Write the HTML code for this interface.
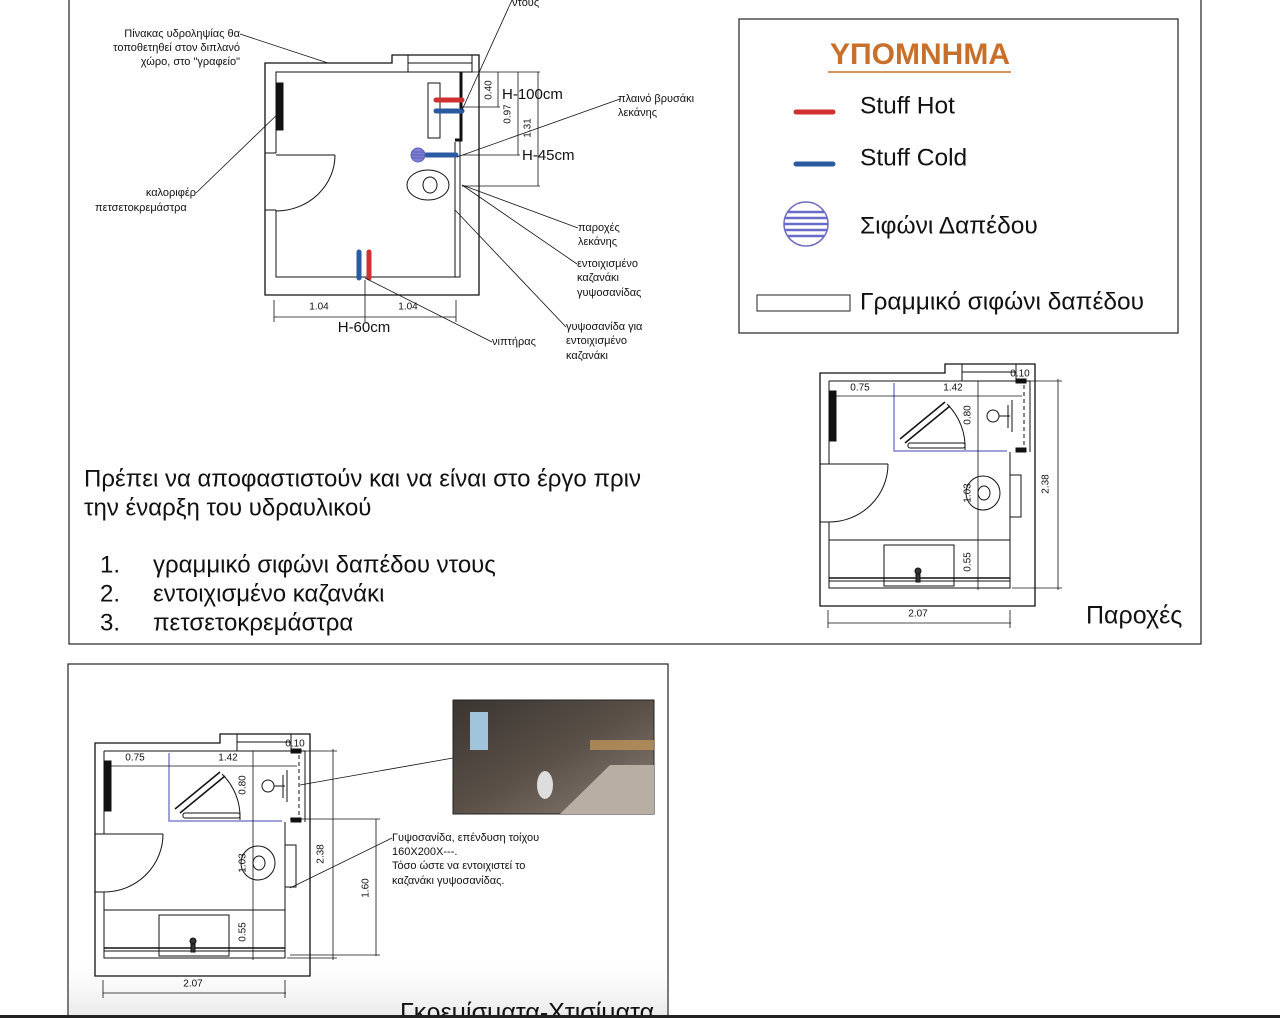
<!DOCTYPE html>
<html><head><meta charset="utf-8"><style>
html,body{margin:0;padding:0;background:#fff;}
svg{display:block;font-family:"Liberation Sans",sans-serif;}
text{dominant-baseline:middle;}
</style></head><body>
<svg width="1280" height="1018" viewBox="0 0 1280 1018" xmlns="http://www.w3.org/2000/svg">
<defs>
<linearGradient id="ph" x1="0" y1="0" x2="1" y2="1">
<stop offset="0" stop-color="#3a3530"/><stop offset="0.5" stop-color="#5a5048"/><stop offset="1" stop-color="#8a8078"/>
</linearGradient>
<linearGradient id="fade" x1="0" y1="0" x2="0" y2="1">
<stop offset="0" stop-color="#fff" stop-opacity="0"/><stop offset="1" stop-color="#e8e8e8"/>
</linearGradient>
<g id="plan" fill="none" stroke="#111" stroke-width="1">
<path d="M820,373 H945 V364 H1035 V606 H820 Z" stroke-width="1.3"/>
<path d="M829,381 H1030 V452 M1010,452 V588 H829 V522 M829,464 V381"/>
<path d="M820,464 H829 M820,522 H829"/>
<rect x="962" y="364" width="54" height="17"/>
<line x1="962" y1="372" x2="1016" y2="372"/>
<line x1="829" y1="464" x2="888" y2="464"/>
<path d="M888,464 A59,58 0 0 1 829,522"/>
<rect x="830" y="391" width="6" height="50" fill="#111"/>
<path d="M894,383 V451 H1007" stroke="#8080d0" stroke-width="1.5"/>
<path d="M900,439 L945,402 M905,443 L950,406" stroke-width="1.5"/>
<rect x="908" y="443" width="57" height="5" rx="2"/>
<path d="M947,404 A60,60 0 0 1 965,450"/>
<line x1="829" y1="396" x2="1022" y2="396" stroke-width="0.8"/>
<text x="860" y="388" font-size="10" fill="#111" stroke="none" text-anchor="middle">0.75</text>
<text x="953" y="388" font-size="10" fill="#111" stroke="none" text-anchor="middle">1.42</text>
<text x="1020" y="374" font-size="10" fill="#111" stroke="none" text-anchor="middle">0.10</text>
<line x1="978" y1="381" x2="978" y2="590" stroke-width="0.8"/>
<text transform="translate(968,415) rotate(-90)" font-size="10" fill="#111" stroke="none" text-anchor="middle">0.80</text>
<text transform="translate(968,493) rotate(-90)" font-size="10" fill="#111" stroke="none" text-anchor="middle">1.03</text>
<text transform="translate(968,562) rotate(-90)" font-size="10" fill="#111" stroke="none" text-anchor="middle">0.55</text>
<circle cx="993" cy="416" r="6"/>
<path d="M999,416 H1010 M1008,405 V428 M1012,400 V432"/>
<rect x="1016" y="379" width="10" height="4" fill="#111"/>
<rect x="1016" y="448" width="10" height="4" fill="#111"/>
<line x1="1024" y1="385" x2="1024" y2="448" stroke-dasharray="4,3"/>
<ellipse cx="983" cy="493" rx="17" ry="17"/>
<ellipse cx="984" cy="493" rx="6" ry="7"/>
<rect x="1010" y="475" width="11" height="42"/>
<line x1="829" y1="540" x2="1010" y2="540"/>
<rect x="884" y="545" width="70" height="41"/>
<line x1="829" y1="578" x2="1010" y2="578" stroke-width="1.5"/>
<line x1="829" y1="581" x2="1010" y2="581"/>
<rect x="916" y="571" width="4" height="11" fill="#333"/>
<circle cx="918" cy="571" r="3" fill="#333"/>
<line x1="828" y1="623" x2="1011" y2="623" stroke-width="0.8"/>
<line x1="828" y1="610" x2="828" y2="628" stroke-width="0.8"/>
<line x1="1010" y1="610" x2="1010" y2="628" stroke-width="0.8"/>
<text x="918" y="614" font-size="10" fill="#111" stroke="none" text-anchor="middle">2.07</text>
<line x1="1058" y1="379" x2="1058" y2="590" stroke-width="0.8"/>
<line x1="1010" y1="381" x2="1062" y2="381" stroke-width="0.8"/>
<line x1="1012" y1="588" x2="1062" y2="588" stroke-width="0.8"/>
<text transform="translate(1046,484) rotate(-90)" font-size="10" fill="#111" stroke="none" text-anchor="middle">2.38</text>
</g>
</defs>

<rect x="69" y="-5" width="1132" height="649" fill="none" stroke="#222" stroke-width="1.2"/>

<g fill="none" stroke="#111" stroke-width="1">
<path d="M265,63 H392 V55 H479 V295 H265 Z" stroke-width="1.3"/>
<path d="M276,153 V72 H460 V277 H276 V210"/>
<path d="M265,153 H276 M265,210 H276"/>
<rect x="408" y="55" width="64" height="17"/>
<line x1="408" y1="63" x2="472" y2="63"/>
<line x1="276" y1="155" x2="335" y2="155"/>
<path d="M335,155 A59,56 0 0 1 276,211"/>
<rect x="277" y="83" width="6" height="47" fill="#111"/>
<rect x="428" y="83" width="12" height="55"/>
<path d="M461,72 V140 H455" stroke-width="3"/>
<line x1="455" y1="142" x2="455" y2="277"/>
<line x1="436" y1="100" x2="462" y2="100" stroke="#d03030" stroke-width="5" stroke-linecap="round"/>
<line x1="436" y1="111" x2="462" y2="111" stroke="#2a5aa0" stroke-width="5" stroke-linecap="round"/>
<line x1="426" y1="155" x2="456" y2="155" stroke="#2a5aa0" stroke-width="5" stroke-linecap="round"/>
<circle cx="418" cy="155" r="7" fill="#8080d0" stroke="#6060c0"/>
<path d="M412,152 H424 M411,155 H425 M412,158 H424" stroke="#5050b0" stroke-width="0.8"/>
<ellipse cx="428" cy="185" rx="21" ry="15"/>
<ellipse cx="430" cy="185" rx="7" ry="8"/>
<line x1="359" y1="252" x2="359" y2="278" stroke="#2a5aa0" stroke-width="5" stroke-linecap="round"/>
<line x1="369" y1="252" x2="369" y2="278" stroke="#d03030" stroke-width="5" stroke-linecap="round"/>
<line x1="274" y1="317" x2="456" y2="317" stroke-width="0.8"/>
<path d="M274,300 V322 M365,280 V322 M456,300 V322" stroke-width="0.8"/>
<path d="M460,72 H540 M460,107 H500 M462,155 H520 M462,186 H540 M498,72 V107 M518,72 V155 M538,72 V186" stroke-width="0.8"/>
<path d="M240,34 L328,63 M512,0 L462,110 M196,193 L282,110 M620,99 L457,157 M578,228 L462,185 M577,264 L462,185 M566,327 L455,210 M492,342 L365,278" stroke-width="0.8"/>
</g>
<g font-size="11" fill="#111">
<text x="240" y="34" text-anchor="end">Πίνακας υδροληψίας θα</text>
<text x="240" y="48" text-anchor="end">τοποθετηθεί στον διπλανό</text>
<text x="240" y="62" text-anchor="end">χώρο, στο "γραφείο"</text>
<text x="512" y="3">ντους</text>
<text x="196" y="193" text-anchor="end">καλοριφέρ</text>
<text x="95" y="208">πετσετοκρεμάστρα</text>
<text x="618" y="99">πλαινό βρυσάκι</text>
<text x="618" y="113">λεκάνης</text>
<text x="578" y="228">παροχές</text>
<text x="578" y="242">λεκάνης</text>
<text x="577" y="264">εντοιχισμένο</text>
<text x="577" y="278">καζανάκι</text>
<text x="577" y="293">γυψοσανίδας</text>
<text x="566" y="327">γυψοσανίδα για</text>
<text x="566" y="341">εντοιχισμένο</text>
<text x="566" y="356">καζανάκι</text>
<text x="492" y="342">νιπτήρας</text>
<text x="319" y="307" font-size="10" text-anchor="middle">1.04</text>
<text x="408" y="307" font-size="10" text-anchor="middle">1.04</text>
<text x="502" y="95" font-size="15">H-100cm</text>
<text x="522" y="156" font-size="15">H-45cm</text>
<text x="364" y="328" font-size="15" text-anchor="middle">H-60cm</text>
<text transform="translate(489,90) rotate(-90)" font-size="10" text-anchor="middle">0.40</text>
<text transform="translate(508,114) rotate(-90)" font-size="10" text-anchor="middle">0.97</text>
<text transform="translate(528,128) rotate(-90)" font-size="10" text-anchor="middle">1.31</text>
</g>

<g font-size="24" fill="#111">
<text x="84" y="480">Πρέπει να αποφαστιστούν και να είναι στο έργο πριν</text>
<text x="84" y="509">την έναρξη του υδραυλικού</text>
<text x="100" y="566">1.</text><text x="153" y="566">γραμμικό σιφώνι δαπέδου ντους</text>
<text x="100" y="595">2.</text><text x="153" y="595">εντοιχισμένο καζανάκι</text>
<text x="100" y="624">3.</text><text x="153" y="624">πετσετοκρεμάστρα</text>
</g>

<rect x="739" y="19" width="439" height="314" fill="none" stroke="#222" stroke-width="1.2"/>
<text x="920" y="56" font-size="30" font-weight="bold" fill="#c8702a" text-anchor="middle">ΥΠΟΜΝΗΜΑ</text>
<line x1="828" y1="72" x2="1011" y2="72" stroke="#c8702a" stroke-width="1.5"/>
<line x1="796" y1="112" x2="833" y2="112" stroke="#d03030" stroke-width="5" stroke-linecap="round"/>
<line x1="796" y1="164" x2="833" y2="164" stroke="#2a5aa0" stroke-width="5" stroke-linecap="round"/>
<g font-size="24.5" fill="#111">
<text x="860" y="107">Stuff Hot</text>
<text x="860" y="159">Stuff Cold</text>
<text x="860" y="227">Σιφώνι Δαπέδου</text>
<text x="860" y="303">Γραμμικό σιφώνι δαπέδου</text>
</g>
<circle cx="806" cy="224" r="22" fill="#fff" stroke="#7070c0" stroke-width="1.5"/>
<g stroke="#6a6ac8" stroke-width="2.5">
<line x1="788" y1="212" x2="824" y2="212"/><line x1="785" y1="218" x2="827" y2="218"/><line x1="784" y1="224" x2="828" y2="224"/><line x1="785" y1="230" x2="827" y2="230"/><line x1="788" y1="236" x2="824" y2="236"/>
</g>
<rect x="757" y="295" width="93" height="16" fill="none" stroke="#222"/>

<use href="#plan"/>
<text x="1086" y="617" font-size="25" fill="#111">Παροχές</text>

<rect x="68" y="664" width="600" height="360" fill="none" stroke="#222" stroke-width="1.2"/>
<rect x="69" y="950" width="598" height="68" fill="url(#fade)"/>
<use href="#plan" transform="translate(-725,370)"/>
<g fill="none" stroke="#111" stroke-width="0.8">
<line x1="376" y1="819" x2="376" y2="956"/>
<line x1="290" y1="819" x2="380" y2="819"/>
<line x1="290" y1="955" x2="380" y2="955"/>
<line x1="392" y1="838" x2="290" y2="888"/>
<line x1="453" y1="758" x2="300" y2="785"/>
</g>
<text transform="translate(366,888) rotate(-90)" font-size="10" fill="#111" text-anchor="middle">1.60</text>
<g font-size="11" fill="#111">
<text x="392" y="838">Γυψοσανίδα, επένδυση τοίχου</text>
<text x="392" y="852">160X200X---.</text>
<text x="392" y="866">Τόσο ώστε να εντοιχιστεί το</text>
<text x="392" y="881">καζανάκι γυψοσανίδας.</text>
</g>
<rect x="453" y="700" width="201" height="114" fill="url(#ph)" stroke="#222"/>
<rect x="470" y="712" width="18" height="38" fill="#9fc4dc"/>
<rect x="590" y="740" width="64" height="10" fill="#c89a5a" opacity="0.7"/>
<path d="M560,814 L610,765 H654 V814 Z" fill="#b8aea4"/>
<ellipse cx="545" cy="785" rx="8" ry="14" fill="#ddd"/>
<text x="400" y="1014" font-size="25" fill="#111">Γκρεμίσματα-Χτισίματα</text>
<rect x="0" y="1015" width="1280" height="3" fill="#222"/>
</svg>
</body></html>
